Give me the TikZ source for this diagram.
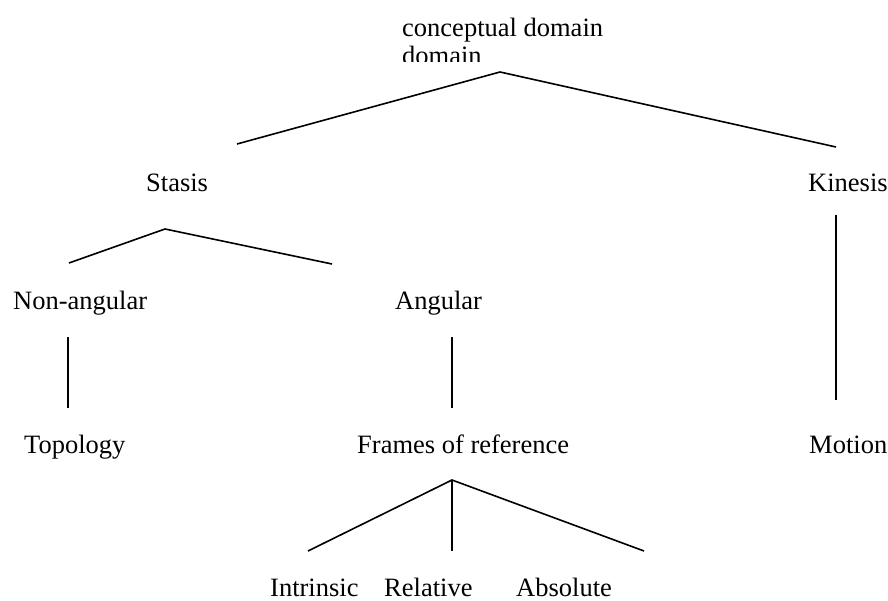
\documentclass[tikz,border=0pt]{standalone}
\usepackage{fontspec}
\setmainfont{Liberation Serif}
\begin{document}
\begin{tikzpicture}[x=1pt,y=-1pt,
  lbl/.style={inner sep=0pt,anchor=base west,font=\fontsize{26.5}{30}\selectfont},
  branch/.style={line width=1.6pt,line cap=butt}]
\useasboundingbox[fill=white] (0,0) rectangle (888,601);

% root label, its second line cut off by the frame
\begin{scope}
  \clip (380,0) rectangle (720,62);
  \node[lbl] (root) at (402,37) {conceptual domain};
  \node[lbl] (root2) at (402,65) {domain};
\end{scope}

% labels
\node[lbl] (stasis)   at (146,192) {Stasis};
\node[lbl] (kinesis)  at (808,192) {Kinesis};
\node[lbl] (nonang)   at (13,309)  {Non-angular};
\node[lbl] (ang)      at (395,309) {Angular};
\node[lbl] (topo)     at (24,453)  {Topology};
\node[lbl] (frames)   at (357,453) {Frames of reference};
\node[lbl] (motion)   at (809,453) {Motion};
\node[lbl] (intr)     at (270,596) {Intrinsic};
\node[lbl] (rel)      at (384,596) {Relative};
\node[lbl] (abs)      at (516,596) {Absolute};

% joints and branch ends
\coordinate (rootJ)  at (500,72);
\coordinate (stasisE) at (237,144);
\coordinate (kinE)   at (836,147);
\coordinate (stasisJ) at (165,229);
\coordinate (nonangE) at (69,263);
\coordinate (angE)   at (332,264);
\coordinate (kinJ)   at (836,215);
\coordinate (motionE) at (836,400);
\coordinate (nonangJ) at (68,337);
\coordinate (topoE)  at (68,408);
\coordinate (angJ)   at (452,337);
\coordinate (framesE) at (452,408);
\coordinate (framesJ) at (452,480);
\coordinate (intrE)  at (308,551);
\coordinate (relE)   at (452,551);
\coordinate (absE)   at (644,551);

% branches
\draw[branch] (stasisE) -- (rootJ) -- (kinE);
\draw[branch] (nonangE) -- (stasisJ) -- (angE);
\draw[branch] (kinJ) -- (motionE);
\draw[branch] (nonangJ) -- (topoE);
\draw[branch] (angJ) -- (framesE);
\draw[branch] (intrE) -- (framesJ) -- (absE);
\draw[branch] (framesJ) -- (relE);
\end{tikzpicture}
\end{document}
